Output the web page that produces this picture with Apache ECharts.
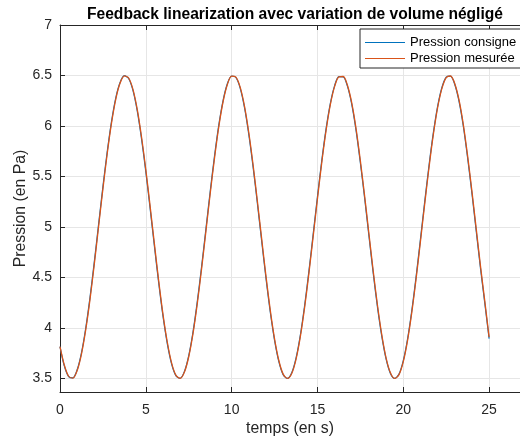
<!DOCTYPE html>
<html>
<head>
<meta charset="utf-8">
<script src="https://cdn.jsdelivr.net/npm/echarts@6/dist/echarts.min.js"></script>
<style>
  html, body { margin: 0; padding: 0; background: #ffffff; }
  #chart { width: 520px; height: 441px; }
</style>
</head>
<body>
<div id="chart"></div>
<script>
// Time samples (s)
const temps = [
  0, 0.25, 0.5, 0.75, 1, 1.25, 1.5, 1.75, 2, 2.25, 2.5, 2.75, 3, 3.25, 3.5, 3.75,
  4, 4.25, 4.5, 4.75, 5, 5.25, 5.5, 5.75, 6, 6.25, 6.5, 6.75, 7, 7.25, 7.5, 7.75,
  8, 8.25, 8.5, 8.75, 9, 9.25, 9.5, 9.75, 10, 10.25, 10.5, 10.75, 11, 11.25, 11.5, 11.75,
  12, 12.25, 12.5, 12.75, 13, 13.25, 13.5, 13.75, 14, 14.25, 14.5, 14.75, 15, 15.25, 15.5, 15.75,
  16, 16.25, 16.5, 16.75, 17, 17.25, 17.5, 17.75, 18, 18.25, 18.5, 18.75, 19, 19.25, 19.5, 19.75,
  20, 20.25, 20.5, 20.75, 21, 21.25, 21.5, 21.75, 22, 22.25, 22.5, 22.75, 23, 23.25, 23.5, 23.75,
  24, 24.25, 24.5, 24.75, 25
];

// Reference pressure (Pa)
const pressionConsigne = [
  3.815, 3.624, 3.519, 3.506, 3.586, 3.754, 4.000, 4.306, 4.657, 5.029, 5.399, 5.744, 6.044, 6.279, 6.431, 6.498,
  6.470, 6.352, 6.149, 5.872, 5.546, 5.183, 4.809, 4.446, 4.117, 3.846, 3.645, 3.528, 3.502, 3.570, 3.727, 3.962,
  4.263, 4.609, 4.979, 5.351, 5.700, 6.008, 6.252, 6.418, 6.495, 6.480, 6.373, 6.181, 5.915, 5.593, 5.233, 4.859,
  4.492, 4.158, 3.878, 3.667, 3.538, 3.500, 3.556, 3.701, 3.927, 4.220, 4.561, 4.929, 5.302, 5.657, 5.971, 6.224,
  6.400, 6.489, 6.487, 6.392, 6.212, 5.954, 5.634, 5.282, 4.908, 4.540, 4.201, 3.914, 3.691, 3.550, 3.500, 3.543,
  3.677, 3.893, 4.178, 4.513, 4.880, 5.253, 5.611, 5.931, 6.194, 6.381, 6.483, 6.493, 6.411, 6.242, 5.995, 5.681,
  5.331, 4.958, 4.588, 4.243, 3.895
];

// Measured pressure (Pa)
const pressionMesuree = [
  3.815, 3.633, 3.522, 3.504, 3.578, 3.741, 3.983, 4.286, 4.635, 5.007, 5.378, 5.725, 6.028, 6.267, 6.425, 6.497,
  6.475, 6.362, 6.164, 5.891, 5.567, 5.206, 4.832, 4.467, 4.135, 3.861, 3.655, 3.533, 3.501, 3.563, 3.715, 3.946,
  4.244, 4.588, 4.957, 5.329, 5.680, 5.992, 6.240, 6.411, 6.493, 6.484, 6.382, 6.195, 5.933, 5.614, 5.255, 4.882,
  4.513, 4.177, 3.893, 3.678, 3.543, 3.500, 3.550, 3.690, 3.912, 4.201, 4.540, 4.907, 5.280, 5.637, 5.954, 6.211,
  6.392, 6.487, 6.490, 6.401, 6.226, 5.972, 5.655, 5.304, 4.931, 4.562, 4.220, 3.930, 3.702, 3.556, 3.500, 3.538,
  3.667, 3.878, 4.159, 4.492, 4.858, 5.231, 5.591, 5.914, 6.181, 6.372, 6.480, 6.495, 6.419, 6.255, 6.012, 5.701,
  5.353, 4.981, 4.610, 4.263, 3.910
];

// Axis ticks
const xTicks = [0, 5, 10, 15, 20, 25];
const yTicks = [3.5, 4, 4.5, 5, 5.5, 6, 6.5, 7];

const AXIS = '#262626';
const GRID = '#e6e6e6';
const FONT = '"Liberation Sans", Arial, sans-serif';

const toPairs = (xs, ys) => xs.map((x, i) => [x, ys[i]]);

const chart = echarts.init(document.getElementById('chart'), null, { renderer: 'canvas' });

chart.setOption({
  animation: false,
  backgroundColor: '#ffffff',
  textStyle: { fontFamily: FONT },
  title: {
    text: 'Feedback linearization avec variation de volume négligé',
    left: 82,
    top: 2,
    textStyle: { fontFamily: FONT, fontSize: 15.6, fontWeight: 'bold', color: '#000000' }
  },
  legend: {
    orient: 'vertical',
    left: 360,
    top: 29,
    itemWidth: 40,
    itemHeight: 1.2,
    itemGap: 1,
    padding: [6, 40, 2, 5],
    borderColor: AXIS,
    borderWidth: 1,
    borderRadius: 0,
    backgroundColor: '#ffffff',
    icon: 'rect',
    textStyle: { fontFamily: FONT, fontSize: 13, color: '#000000', lineHeight: 15 },
    data: ['Pression consigne', 'Pression mesurée']
  },
  grid: { left: 60, top: 25, right: 0, bottom: 49, outerBoundsMode: 'none', containLabel: false },
  xAxis: [{
    type: 'value',
    min: 0,
    max: 26.8,
    position: 'bottom',
    name: 'temps (en s)',
    nameLocation: 'middle',
    nameGap: 29,
    nameMoveOverlap: false,
    nameTextStyle: { fontFamily: FONT, fontSize: 15.8, color: AXIS },
    axisLine: { show: true, lineStyle: { color: AXIS, width: 1 } },
    axisTick: { show: true, inside: true, length: 5, lineStyle: { color: AXIS }, customValues: xTicks },
    axisLabel: { color: AXIS, fontSize: 14, margin: 11, fontFamily: FONT, customValues: xTicks },
    splitLine: { show: true, lineStyle: { color: GRID, width: 1 } },
    interval: 5
  }, {
    type: 'value',
    min: 0,
    max: 26.8,
    position: 'top',
    axisLine: { show: true, lineStyle: { color: AXIS, width: 1 } },
    axisTick: { show: true, inside: true, length: 5, lineStyle: { color: AXIS }, customValues: xTicks },
    axisLabel: { show: false },
    splitLine: { show: false },
    interval: 5
  }],
  yAxis: {
    type: 'value',
    min: 3.366,
    max: 7,
    name: 'Pression (en Pa)',
    nameLocation: 'middle',
    nameGap: 31,
    nameMoveOverlap: false,
    nameTextStyle: { fontFamily: FONT, fontSize: 15.8, color: AXIS },
    axisLine: { show: true, lineStyle: { color: AXIS, width: 1 } },
    axisTick: { show: true, inside: true, length: 5, lineStyle: { color: AXIS }, customValues: yTicks },
    axisLabel: { color: AXIS, fontSize: 14, margin: 8, fontFamily: FONT, customValues: yTicks },
    splitLine: { show: true, lineStyle: { color: GRID, width: 1 } }
  },
  series: [{
    name: 'Pression consigne',
    type: 'line',
    xAxisIndex: 0,
    data: toPairs(temps, pressionConsigne),
    showSymbol: false,
    smooth: 0.3,
    color: '#0072BD',
    lineStyle: { color: '#0072BD', width: 1.2 },
    z: 2
  }, {
    name: 'Pression mesurée',
    type: 'line',
    xAxisIndex: 0,
    data: toPairs(temps, pressionMesuree),
    showSymbol: false,
    smooth: 0.3,
    color: '#D95319',
    lineStyle: { color: '#D95319', width: 1.3 },
    z: 3
  }]
});
</script>
</body>
</html>
